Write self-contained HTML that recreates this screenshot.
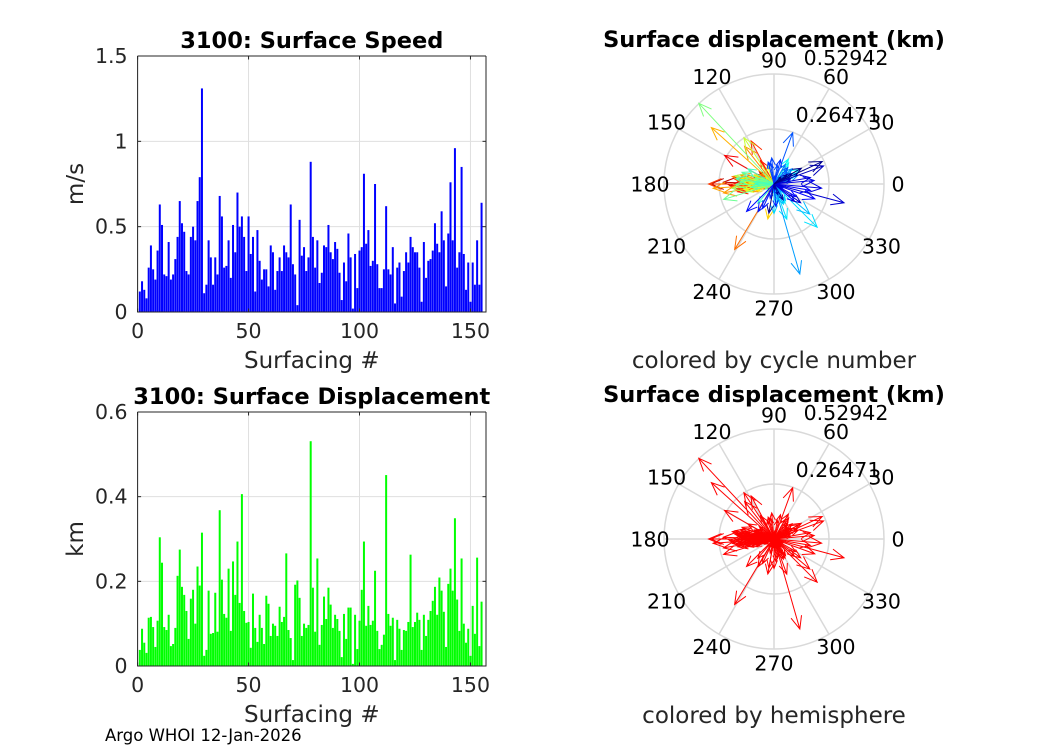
<!DOCTYPE html>
<html><head><meta charset="utf-8">
<style>
body{margin:0;background:#fff;}
svg{display:block;font-family:"DejaVu Sans","Liberation Sans",sans-serif;}
</style></head>
<body>
<svg id="fig" width="1050" height="750" viewBox="0 0 1050 750" xmlns="http://www.w3.org/2000/svg">
<rect width="1050" height="750" fill="#fff"/>
<g id="speed"></g>
<g id="disp"></g>
<g id="polar1"></g>
<g id="polar2"></g>
<text x="105" y="741" font-size="16.5" fill="#000">Argo WHOI 12-Jan-2026</text>
</svg>
<script>
const speedVals=[0.12,0.18,0.13,0.08,0.26,0.39,0.25,0.19,0.36,0.63,0.51,0.22,0.21,0.41,0.19,0.22,0.31,0.44,0.65,0.52,0.47,0.24,0.22,0.44,0.5,0.42,0.65,0.79,1.31,0.11,0.16,0.42,0.32,0.16,0.32,0.22,0.68,0.56,0.26,0.27,0.42,0.2,0.51,0.35,0.70,0.5,0.56,0.44,0.24,0.56,0.34,0.44,0.12,0.48,0.30,0.19,0.25,0.25,0.15,0.39,0.35,0.13,0.24,0.32,0.24,0.39,0.35,0.32,0.63,0.28,0.22,0.04,0.54,0.33,0.38,0.24,0.32,0.88,0.44,0.26,0.42,0.17,0.23,0.39,0.38,0.51,0.35,0.31,0.41,0.37,0.23,0.07,0.29,0.18,0.46,0.32,0.02,0.34,0.14,0.36,0.38,0.81,0.40,0.48,0.27,0.30,0.75,0.28,0.14,0.14,0.25,0.62,0.25,0.22,0.38,0.05,0.26,0.29,0.09,0.24,0.35,0.29,0.44,0.38,0.35,0.35,0.26,0.06,0.41,0.2,0.30,0.31,0.36,0.52,0.40,0.35,0.59,0.42,0.15,0.46,0.76,0.42,0.96,0.26,0.35,0.85,0.34,0.13,0.29,0.06,0.29,0.16,0.42,0.16,0.64];
const dispVals=[0.038,0.088,0.055,0.031,0.114,0.116,0.092,0.045,0.107,0.304,0.244,0.092,0.085,0.121,0.047,0.052,0.09,0.213,0.275,0.187,0.168,0.130,0.064,0.159,0.180,0.100,0.235,0.190,0.315,0.024,0.038,0.178,0.076,0.078,0.173,0.081,0.368,0.204,0.123,0.114,0.230,0.083,0.247,0.168,0.294,0.149,0.406,0.130,0.102,0.104,0.043,0.171,0.09,0.057,0.121,0.09,0.052,0.166,0.147,0.071,0.1,0.095,0.071,0.140,0.104,0.116,0.266,0.085,0.066,0.014,0.192,0.202,0.161,0.071,0.1,0.09,0.097,0.531,0.185,0.081,0.254,0.05,0.097,0.164,0.111,0.185,0.145,0.09,0.121,0.111,0.083,0.021,0.123,0.064,0.138,0.138,0.005,0.121,0.040,0.107,0.180,0.294,0.095,0.142,0.097,0.107,0.225,0.083,0.040,0.050,0.074,0.451,0.123,0.095,0.114,0.014,0.109,0.088,0.038,0.085,0.083,0.104,0.263,0.092,0.104,0.126,0.109,0.038,0.121,0.071,0.109,0.130,0.154,0.187,0.121,0.209,0.178,0.128,0.045,0.194,0.230,0.178,0.349,0.157,0.083,0.254,0.1,0.055,0.088,0.024,0.142,0.076,0.256,0.047,0.152];
const dispAngles=[170,185,160,200,175,190,150,210,165,180,178,140,195,172,230,205,160,182,150,188,176,120,200,168,192,158,118,173,180,215,250,174,195,160,186,145,239,170,182,198,128,176,190,165,184,170,138,175,196,155,180,260,187,163,178,202,140,172,190,185,166,110,180,194,158,176,123,182,170,200,168,186,175,155,190,178,165,133,181,169,197,210,175,160,188,172,150,180,230,40,35,20,55,15,30,60,45,25,50,300,290,315,280,270,305,295,320,285,265,310,300,286,20,35,40,15,60,45,30,25,10,50,70,80,100,95,105,85,75,255,275,245,240,225,330,340,350,320,335,5,355,10,345,325,17,20,30,290,300,280,260,35,25,45,30];
const xTicks=[0,50,100,150];
const speedTicks=[0,0.5,1,1.5];
const speedTickLabels=["0","0.5","1","1.5"];
const dispTicks=[0,0.2,0.4,0.6];
const dispTickLabels=["0","0.2","0.4","0.6"];
const angleLabels=[0,30,60,90,120,150,180,210,240,270,300,330];
const rTickLabels=["0.26471","0.52942"];
const rMax=0.52942;

const NS="http://www.w3.org/2000/svg";
function mk(tag,attrs,parent){const e=document.createElementNS(NS,tag);for(const k in attrs)e.setAttribute(k,attrs[k]);parent.appendChild(e);return e;}

function barChart(g,vals,ticks,tickLabels,ymax,top,bottom,color,title,ylab){
  const L=137.6,R=486,xmax=157;
  const xs=v=>L+v*(R-L)/xmax;
  const ys=v=>bottom-v*(bottom-top)/ymax;
  xTicks.forEach(t=>{const l=mk('line',{x1:xs(t),x2:xs(t),y1:top,y2:bottom,stroke:'#dfdfdf','stroke-width':1},g);
    });
  ticks.forEach(t=>{const l=mk('line',{x1:L,x2:R,y1:ys(t),y2:ys(t),stroke:'#dfdfdf','stroke-width':1},g);
    });
  vals.forEach((v,i)=>{const c=i+1;const r=mk('rect',{x:xs(c-0.45),y:ys(v),width:xs(0.9)-xs(0),height:ys(0)-ys(v),fill:color},g);
    });
  const box=mk('path',{d:`M${L},${top}V${bottom}H${R}V${top}`,fill:'none',stroke:'#262626','stroke-width':1},g);
  
  mk('line',{x1:L,x2:R,y1:top,y2:top,stroke:'#262626','stroke-width':1},g);
  xTicks.forEach(t=>{mk('line',{x1:xs(t),x2:xs(t),y1:bottom,y2:bottom-3.5,stroke:'#262626'},g);
    mk('line',{x1:xs(t),x2:xs(t),y1:top,y2:top+3.5,stroke:'#262626'},g);
    const tx=mk('text',{x:xs(t),y:bottom+26,'font-size':20.5,'text-anchor':'middle',fill:'#262626'},g);tx.textContent=t;
    });
  ticks.forEach((t,i)=>{mk('line',{x1:L,x2:L+3.5,y1:ys(t),y2:ys(t),stroke:'#262626'},g);
    mk('line',{x1:R,x2:R-3.5,y1:ys(t),y2:ys(t),stroke:'#262626'},g);
    const tx=mk('text',{x:L-10,y:ys(t)+7,'font-size':20.5,'text-anchor':'end',fill:'#262626'},g);tx.textContent=tickLabels[i];
    });
  const tt=mk('text',{x:(L+R)/2,y:top-8,'font-size':22.5,'font-weight':'bold','text-anchor':'middle',fill:'#000'},g);tt.textContent=title;
  
  const xl=mk('text',{x:(L+R)/2,y:bottom+56,'font-size':23,'text-anchor':'middle',fill:'#262626'},g);xl.textContent='Surfacing #';
  
  const yl=mk('text',{x:0,y:0,'font-size':23,'text-anchor':'middle',fill:'#262626',transform:`translate(83,${(top+bottom)/2}) rotate(-90)`},g);yl.textContent=ylab;
  
}
barChart(document.getElementById('speed'),speedVals,speedTicks,speedTickLabels,1.5,56,312,'#0000ff','3100: Surface Speed','m/s');
barChart(document.getElementById('disp'),dispVals,dispTicks,dispTickLabels,0.6,412,666,'#00ff00','3100: Surface Displacement','km');

function jet(t){const r=Math.min(1,Math.max(0,1.5-Math.abs(4*t-3))),g=Math.min(1,Math.max(0,1.5-Math.abs(4*t-2))),b=Math.min(1,Math.max(0,1.5-Math.abs(4*t-1)));
  return `rgb(${Math.round(r*255)},${Math.round(g*255)},${Math.round(b*255)})`;}

function polar(g,cx,cy,caption,colorFn){
  const R=110;const rs=v=>v/rMax*R;
  [0.5,1].forEach(f=>{const c=mk('circle',{cx,cy,r:R*f,fill:'none',stroke:'#d9d9d9','stroke-width':1.5},g);
    });
  angleLabels.forEach(a=>{const t=a*Math.PI/180;
    const l=mk('line',{x1:cx,y1:cy,x2:cx+R*Math.cos(t),y2:cy-R*Math.sin(t),stroke:'#d9d9d9','stroke-width':1.5},g);
    
    const tx=mk('text',{x:cx+124*Math.cos(t),y:cy-124*Math.sin(t)+7.5,'font-size':20.5,'text-anchor':'middle',fill:'#000'},g);tx.textContent=a;
    });
  dispVals.forEach((v,i)=>{const t=dispAngles[i]*Math.PI/180;const r=rs(v);
    const ex=cx+r*Math.cos(t),ey=cy-r*Math.sin(t);const col=colorFn(i);
    const hl=Math.min(r*0.3,14);
    const p1x=ex-hl*Math.cos(t-0.4),p1y=ey+hl*Math.sin(t-0.4),p2x=ex-hl*Math.cos(t+0.4),p2y=ey+hl*Math.sin(t+0.4);
    const a=mk('path',{d:`M${cx},${cy}L${ex},${ey}M${p1x},${p1y}L${ex},${ey}L${p2x},${p2y}`,fill:'none',stroke:col,'stroke-width':1},g);
    });
  const r1=mk('text',{x:cx+64,y:cy-62,'font-size':20.5,'text-anchor':'middle',fill:'#000'},g);r1.textContent=rTickLabels[0];
  
  const r2=mk('text',{x:cx+72,y:cy-119,'font-size':20.5,'text-anchor':'middle',fill:'#000'},g);r2.textContent=rTickLabels[1];
  
  const tt=mk('text',{x:cx,y:cy-137,'font-size':22.5,'font-weight':'bold','text-anchor':'middle',fill:'#000'},g);tt.textContent='Surface displacement (km)';
  
  const cp=mk('text',{x:cx,y:cy+184,'font-size':23,'text-anchor':'middle',fill:'#262626'},g);cp.textContent=caption;
  
}
polar(document.getElementById('polar1'),774,184,'colored by cycle number',i=>jet(1-i/(dispVals.length-1)));
polar(document.getElementById('polar2'),774,539,'colored by hemisphere',i=>'#ff0000');
</script>
</body></html>
